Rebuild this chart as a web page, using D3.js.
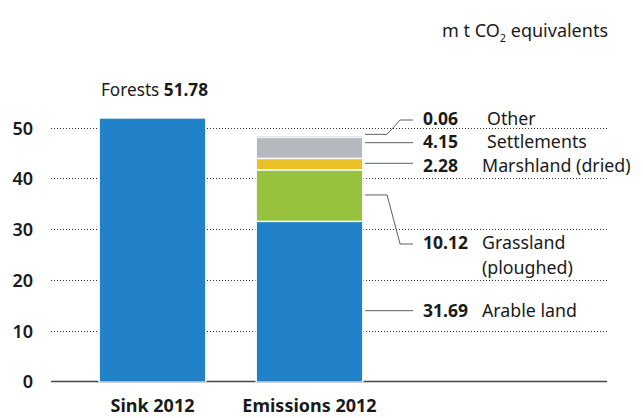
<!DOCTYPE html>
<html><head><meta charset="utf-8">
<script src="https://cdn.jsdelivr.net/npm/d3@7"></script>
<style>
body{margin:0;background:#fff;}
text{font-family:"Noto Sans",sans-serif;fill:#1a1a1a;}
</style></head>
<body><svg id="c" width="643" height="418"></svg>
<script>
// ---- data ----
const categories = ["Sink 2012", "Emissions 2012"];
const sinkLabel = "Forests";
const sinkValue = 51.78;
const emissionNames = ["Arable land", "Grassland", "Marshland (dried)", "Settlements", "Other"];
const emissionNameLine2 = ["", "(ploughed)", "", "", ""];
const emissionValues = [31.69, 10.12, 2.28, 4.15, 0.06];
const emissionColors = ["#2282c9", "#98c13d", "#e8c127", "#b5b9be", "#d6d9dc"];
const yTicks = [0, 10, 20, 30, 40, 50];
const unitLabel = ["m t CO", "2", " equivalents"];

// ---- layout ----
const svg = d3.select("#c");
const x = d3.scaleBand().domain(categories).range([74, 388]).paddingInner(0.33).paddingOuter(0.165);
const y = d3.scaleLinear().domain([0, 50]).range([381.5, 127.7]);
const gridX0 = 51, gridX1 = 607;
const blue = "#2282c9";
const fs = 17.8;

// gridlines
svg.append("g").selectAll("line").data(yTicks.filter(d => d > 0)).join("line")
  .attr("x1", gridX0).attr("x2", gridX1)
  .attr("y1", d => Math.round(y(d)) + 0.5).attr("y2", d => Math.round(y(d)) + 0.5)
  .attr("stroke", "#333").attr("stroke-width", 1).attr("stroke-dasharray", "1,2");

// baseline
svg.append("line").attr("x1", gridX0).attr("x2", gridX1)
  .attr("y1", y(0)).attr("y2", y(0)).attr("stroke", "#444").attr("stroke-width", 1.5);

// y tick labels
const yAxis = d3.axisLeft(y).tickValues(yTicks).tickSize(0).tickPadding(0);
const ga = svg.append("g").attr("transform", "translate(33,0)").call(yAxis);
ga.select(".domain").remove();
ga.selectAll("text").attr("font-size", 18).attr("font-weight", 600)
  .attr("font-family", "Noto Sans").attr("fill", "#1a1a1a").attr("dy", "0.36em");

// white backing to cut gridlines around bars
categories.forEach(c => {
  const top = c === categories[0] ? sinkValue : d3.sum(emissionValues);
  svg.append("rect").attr("x", x(c) - 1.5).attr("width", x.bandwidth() + 3)
    .attr("y", y(top) - 1.5).attr("height", y(0) - y(top) + 2).attr("fill", "#fff");
});

// sink bar
svg.append("rect").attr("x", x(categories[0])).attr("width", x.bandwidth())
  .attr("y", y(sinkValue)).attr("height", y(0) - y(sinkValue)).attr("fill", blue);

// emissions stack
const stack = [];
let acc = 0;
emissionValues.forEach((v, i) => { stack.push({i, v, y0: acc, y1: acc + v}); acc += v; });
const last = stack.length - 1;
svg.append("g").selectAll("rect").data(stack).join("rect")
  .attr("x", x(categories[1])).attr("width", x.bandwidth())
  .attr("y", d => y(d.y1) + (d.i < last ? 1.5 : 0))
  .attr("height", d => Math.max(1, y(d.y0) - y(d.y1) - (d.i < last ? 1.5 : 0)))
  .attr("fill", d => emissionColors[d.i]);

// forest label
const fl = svg.append("text").attr("x", x(categories[0]) + 1).attr("y", 96).attr("font-size", 17.2);
fl.append("tspan").text(sinkLabel + " ");
fl.append("tspan").attr("font-weight", 700).text(sinkValue.toFixed(2));

// leader lines + labels
const barR = x(categories[1]) + x.bandwidth() + 3;
const lineEnd = 413;
const labelBase = [317, 249, 171.5, 148, 125];
const startY = [310.7, y(31.69 + 10.12 / 2), 163.3, 142.7, y(d3.sum(emissionValues)) - 2];
const endY = [310.7, 244, 163.3, 142.7, 120];
const nameX = [482, 482, 482, 487, 487];
stack.forEach(d => {
  const i = d.i;
  let p;
  if (Math.abs(startY[i] - endY[i]) < 0.5) {
    p = `M${barR},${startY[i]}H${lineEnd}`;
  } else {
    p = `M${barR},${startY[i]}H${barR + 22}L${barR + 35},${endY[i]}H${lineEnd}`;
  }
  svg.append("path").attr("d", p).attr("fill", "none").attr("stroke", "#5a5f66").attr("stroke-width", 1);
  svg.append("text").attr("x", 423).attr("y", labelBase[i]).attr("font-size", 17.5)
    .attr("font-weight", 700).text(emissionValues[i].toFixed(2));
  svg.append("text").attr("x", nameX[i]).attr("y", labelBase[i]).attr("font-size", fs).text(emissionNames[i]);
  if (emissionNameLine2[i]) {
    svg.append("text").attr("x", nameX[i]).attr("y", labelBase[i] + 25).attr("font-size", fs).text(emissionNameLine2[i]);
  }
});

// category labels
svg.append("g").selectAll("text").data(categories).join("text")
  .attr("x", d => x(d) + x.bandwidth() / 2).attr("y", 412)
  .attr("text-anchor", "middle").attr("font-size", 18).attr("font-weight", 700).text(d => d);

// unit label
const ul = svg.append("text").attr("x", 442).attr("y", 37).attr("font-size", 18);
ul.append("tspan").text(unitLabel[0]);
ul.append("tspan").attr("font-size", 11).attr("dy", 5).text(unitLabel[1]);
ul.append("tspan").attr("dy", -5).text(unitLabel[2]);
</script></body></html>
